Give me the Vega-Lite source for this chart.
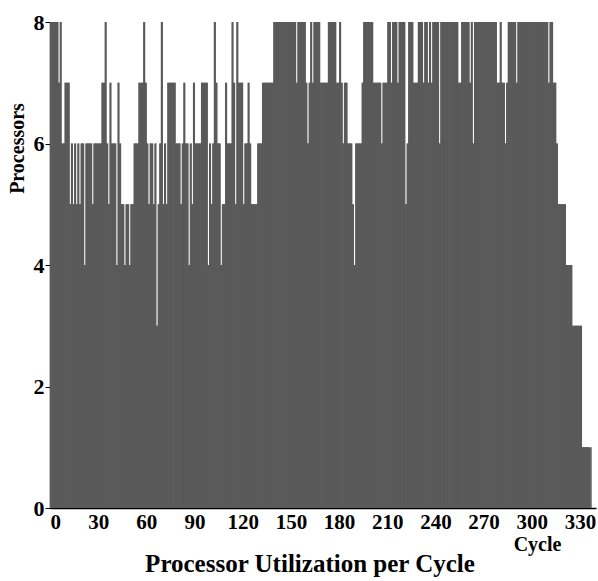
{
  "$schema": "https://vega.github.io/schema/vega-lite/v6.json",
  "width": 546,
  "height": 486,
  "autosize": {"type": "none"},
  "padding": {"left": 50, "top": 22, "right": 2, "bottom": 73},
  "background": "white",
  "title": {
    "text": "Processor Utilization per Cycle",
    "orient": "bottom",
    "anchor": "middle",
    "font": "Liberation Serif",
    "fontSize": 25,
    "fontWeight": "bold",
    "color": "black",
    "dx": -13,
    "offset": -2
  },
  "data": {"values": [
{"cycle":0,"p":8},{"cycle":1,"p":8},{"cycle":2,"p":8},{"cycle":3,"p":8},{"cycle":4,"p":8},{"cycle":5,"p":7},{"cycle":6,"p":8},{"cycle":7,"p":6},{"cycle":8,"p":6},{"cycle":9,"p":7},
{"cycle":10,"p":7},{"cycle":11,"p":7},{"cycle":12,"p":5},{"cycle":13,"p":6},{"cycle":14,"p":5},{"cycle":15,"p":6},{"cycle":16,"p":5},{"cycle":17,"p":6},{"cycle":18,"p":5},{"cycle":19,"p":6},
{"cycle":20,"p":6},{"cycle":21,"p":4},{"cycle":22,"p":6},{"cycle":23,"p":6},{"cycle":24,"p":6},{"cycle":25,"p":6},{"cycle":26,"p":5},{"cycle":27,"p":6},{"cycle":28,"p":6},{"cycle":29,"p":6},
{"cycle":30,"p":6},{"cycle":31,"p":6},{"cycle":32,"p":7},{"cycle":33,"p":7},{"cycle":34,"p":8},{"cycle":35,"p":6},{"cycle":36,"p":5},{"cycle":37,"p":7},{"cycle":38,"p":6},{"cycle":39,"p":6},
{"cycle":40,"p":6},{"cycle":41,"p":4},{"cycle":42,"p":7},{"cycle":43,"p":6},{"cycle":44,"p":5},{"cycle":45,"p":5},{"cycle":46,"p":4},{"cycle":47,"p":5},{"cycle":48,"p":5},{"cycle":49,"p":4},
{"cycle":50,"p":5},{"cycle":51,"p":5},{"cycle":52,"p":6},{"cycle":53,"p":6},{"cycle":54,"p":6},{"cycle":55,"p":7},{"cycle":56,"p":7},{"cycle":57,"p":7},{"cycle":58,"p":8},{"cycle":59,"p":7},
{"cycle":60,"p":6},{"cycle":61,"p":5},{"cycle":62,"p":6},{"cycle":63,"p":6},{"cycle":64,"p":5},{"cycle":65,"p":6},{"cycle":66,"p":3},{"cycle":67,"p":5},{"cycle":68,"p":6},{"cycle":69,"p":8},
{"cycle":70,"p":5},{"cycle":71,"p":6},{"cycle":72,"p":5},{"cycle":73,"p":7},{"cycle":74,"p":7},{"cycle":75,"p":7},{"cycle":76,"p":7},{"cycle":77,"p":7},{"cycle":78,"p":6},{"cycle":79,"p":6},
{"cycle":80,"p":6},{"cycle":81,"p":5},{"cycle":82,"p":6},{"cycle":83,"p":7},{"cycle":84,"p":6},{"cycle":85,"p":6},{"cycle":86,"p":4},{"cycle":87,"p":6},{"cycle":88,"p":5},{"cycle":89,"p":7},
{"cycle":90,"p":6},{"cycle":91,"p":6},{"cycle":92,"p":6},{"cycle":93,"p":6},{"cycle":94,"p":7},{"cycle":95,"p":7},{"cycle":96,"p":7},{"cycle":97,"p":7},{"cycle":98,"p":4},{"cycle":99,"p":6},
{"cycle":100,"p":5},{"cycle":101,"p":6},{"cycle":102,"p":8},{"cycle":103,"p":7},{"cycle":104,"p":6},{"cycle":105,"p":6},{"cycle":106,"p":4},{"cycle":107,"p":5},{"cycle":108,"p":5},{"cycle":109,"p":7},
{"cycle":110,"p":6},{"cycle":111,"p":6},{"cycle":112,"p":6},{"cycle":113,"p":8},{"cycle":114,"p":7},{"cycle":115,"p":5},{"cycle":116,"p":8},{"cycle":117,"p":7},{"cycle":118,"p":7},{"cycle":119,"p":7},
{"cycle":120,"p":5},{"cycle":121,"p":6},{"cycle":122,"p":6},{"cycle":123,"p":7},{"cycle":124,"p":6},{"cycle":125,"p":5},{"cycle":126,"p":5},{"cycle":127,"p":5},{"cycle":128,"p":5},{"cycle":129,"p":6},
{"cycle":130,"p":6},{"cycle":131,"p":6},{"cycle":132,"p":7},{"cycle":133,"p":7},{"cycle":134,"p":7},{"cycle":135,"p":7},{"cycle":136,"p":7},{"cycle":137,"p":7},{"cycle":138,"p":7},{"cycle":139,"p":8},
{"cycle":140,"p":8},{"cycle":141,"p":8},{"cycle":142,"p":8},{"cycle":143,"p":8},{"cycle":144,"p":8},{"cycle":145,"p":8},{"cycle":146,"p":8},{"cycle":147,"p":8},{"cycle":148,"p":8},{"cycle":149,"p":8},
{"cycle":150,"p":8},{"cycle":151,"p":8},{"cycle":152,"p":8},{"cycle":153,"p":7},{"cycle":154,"p":8},{"cycle":155,"p":8},{"cycle":156,"p":8},{"cycle":157,"p":8},{"cycle":158,"p":8},{"cycle":159,"p":7},
{"cycle":160,"p":6},{"cycle":161,"p":7},{"cycle":162,"p":8},{"cycle":163,"p":7},{"cycle":164,"p":8},{"cycle":165,"p":8},{"cycle":166,"p":8},{"cycle":167,"p":8},{"cycle":168,"p":7},{"cycle":169,"p":7},
{"cycle":170,"p":7},{"cycle":171,"p":7},{"cycle":172,"p":7},{"cycle":173,"p":8},{"cycle":174,"p":8},{"cycle":175,"p":8},{"cycle":176,"p":8},{"cycle":177,"p":8},{"cycle":178,"p":7},{"cycle":179,"p":7},
{"cycle":180,"p":8},{"cycle":181,"p":7},{"cycle":182,"p":6},{"cycle":183,"p":7},{"cycle":184,"p":7},{"cycle":185,"p":6},{"cycle":186,"p":6},{"cycle":187,"p":6},{"cycle":188,"p":5},{"cycle":189,"p":4},
{"cycle":190,"p":6},{"cycle":191,"p":6},{"cycle":192,"p":6},{"cycle":193,"p":6},{"cycle":194,"p":7},{"cycle":195,"p":8},{"cycle":196,"p":8},{"cycle":197,"p":8},{"cycle":198,"p":8},{"cycle":199,"p":8},
{"cycle":200,"p":8},{"cycle":201,"p":7},{"cycle":202,"p":7},{"cycle":203,"p":7},{"cycle":204,"p":7},{"cycle":205,"p":7},{"cycle":206,"p":6},{"cycle":207,"p":7},{"cycle":208,"p":7},{"cycle":209,"p":7},
{"cycle":210,"p":8},{"cycle":211,"p":8},{"cycle":212,"p":7},{"cycle":213,"p":8},{"cycle":214,"p":8},{"cycle":215,"p":8},{"cycle":216,"p":7},{"cycle":217,"p":8},{"cycle":218,"p":8},{"cycle":219,"p":8},
{"cycle":220,"p":8},{"cycle":221,"p":5},{"cycle":222,"p":6},{"cycle":223,"p":8},{"cycle":224,"p":8},{"cycle":225,"p":8},{"cycle":226,"p":7},{"cycle":227,"p":7},{"cycle":228,"p":7},{"cycle":229,"p":8},
{"cycle":230,"p":8},{"cycle":231,"p":8},{"cycle":232,"p":7},{"cycle":233,"p":8},{"cycle":234,"p":8},{"cycle":235,"p":7},{"cycle":236,"p":8},{"cycle":237,"p":7},{"cycle":238,"p":8},{"cycle":239,"p":8},
{"cycle":240,"p":8},{"cycle":241,"p":8},{"cycle":242,"p":6},{"cycle":243,"p":8},{"cycle":244,"p":8},{"cycle":245,"p":8},{"cycle":246,"p":8},{"cycle":247,"p":8},{"cycle":248,"p":8},{"cycle":249,"p":8},
{"cycle":250,"p":8},{"cycle":251,"p":8},{"cycle":252,"p":8},{"cycle":253,"p":8},{"cycle":254,"p":7},{"cycle":255,"p":7},{"cycle":256,"p":8},{"cycle":257,"p":8},{"cycle":258,"p":8},{"cycle":259,"p":8},
{"cycle":260,"p":8},{"cycle":261,"p":7},{"cycle":262,"p":8},{"cycle":263,"p":6},{"cycle":264,"p":8},{"cycle":265,"p":8},{"cycle":266,"p":8},{"cycle":267,"p":8},{"cycle":268,"p":8},{"cycle":269,"p":8},
{"cycle":270,"p":8},{"cycle":271,"p":8},{"cycle":272,"p":8},{"cycle":273,"p":8},{"cycle":274,"p":8},{"cycle":275,"p":8},{"cycle":276,"p":8},{"cycle":277,"p":8},{"cycle":278,"p":7},{"cycle":279,"p":7},
{"cycle":280,"p":8},{"cycle":281,"p":7},{"cycle":282,"p":7},{"cycle":283,"p":6},{"cycle":284,"p":7},{"cycle":285,"p":8},{"cycle":286,"p":8},{"cycle":287,"p":8},{"cycle":288,"p":8},{"cycle":289,"p":8},
{"cycle":290,"p":7},{"cycle":291,"p":8},{"cycle":292,"p":8},{"cycle":293,"p":8},{"cycle":294,"p":8},{"cycle":295,"p":8},{"cycle":296,"p":8},{"cycle":297,"p":8},{"cycle":298,"p":8},{"cycle":299,"p":8},
{"cycle":300,"p":8},{"cycle":301,"p":8},{"cycle":302,"p":8},{"cycle":303,"p":8},{"cycle":304,"p":8},{"cycle":305,"p":8},{"cycle":306,"p":8},{"cycle":307,"p":8},{"cycle":308,"p":8},{"cycle":309,"p":8},
{"cycle":310,"p":7},{"cycle":311,"p":8},{"cycle":312,"p":8},{"cycle":313,"p":7},{"cycle":314,"p":7},{"cycle":315,"p":6},{"cycle":316,"p":5},{"cycle":317,"p":5},{"cycle":318,"p":5},{"cycle":319,"p":5},
{"cycle":320,"p":5},{"cycle":321,"p":4},{"cycle":322,"p":4},{"cycle":323,"p":4},{"cycle":324,"p":4},{"cycle":325,"p":3},{"cycle":326,"p":3},{"cycle":327,"p":3},{"cycle":328,"p":3},{"cycle":329,"p":3},
{"cycle":330,"p":3},{"cycle":331,"p":1},{"cycle":332,"p":1},{"cycle":333,"p":1},{"cycle":334,"p":1},{"cycle":335,"p":1},{"cycle":336,"p":1}
  ]},
  "layer": [
    {
      "mark": {"type": "area", "color": "#5a5a5a", "interpolate": "step-after"},
      "encoding": {
        "x": {
          "field": "cycle",
          "type": "quantitative",
          "scale": {"domain": [0, 340]},
          "axis": {
            "values": [0, 30, 60, 90, 120, 150, 180, 210, 240, 270, 300, 330],
            "format": "d",
            "title": "Cycle",
            "titleX": 487,
            "titleY": 42,
            "titleAlign": "center",
            "titleBaseline": "alphabetic",
            "titleFontSize": 20,
            "tickSize": -7,
            "labelPadding": 10,
            "labelFontSize": 21,
            "labelBaseline": "top"
          }
        },
        "y": {
          "field": "p",
          "type": "quantitative",
          "scale": {"domain": [0, 8]},
          "axis": {
            "values": [0, 2, 4, 6, 8],
            "title": "Processors",
            "titleAngle": 270,
            "titleX": -33,
            "titleY": 126,
            "titleAlign": "center",
            "titleBaseline": "middle",
            "titleFontSize": 20,
            "tickSize": 5,
            "labelPadding": 1,
            "labelFontSize": 22
          }
        }
      }
    },
    {
      "mark": {"type": "bar", "color": "#5a5a5a", "binSpacing": 0},
      "encoding": {
        "x": {
          "field": "cycle",
          "type": "quantitative",
          "bin": {"step": 1, "extent": [0, 340]},
          "scale": {"domain": [0, 340]},
          "axis": {
            "values": [0, 30, 60, 90, 120, 150, 180, 210, 240, 270, 300, 330],
            "format": "d",
            "title": "Cycle",
            "titleX": 487,
            "titleY": 42,
            "titleAlign": "center",
            "titleBaseline": "alphabetic",
            "titleFontSize": 20,
            "tickSize": -7,
            "labelPadding": 10,
            "labelFontSize": 21,
            "labelBaseline": "top"
          }
        },
        "y": {
          "field": "p",
          "type": "quantitative",
          "scale": {"domain": [0, 8]},
          "axis": {
            "values": [0, 2, 4, 6, 8],
            "title": "Processors",
            "titleAngle": 270,
            "titleX": -33,
            "titleY": 126,
            "titleAlign": "center",
            "titleBaseline": "middle",
            "titleFontSize": 20,
            "tickSize": 5,
            "labelPadding": 1,
            "labelFontSize": 22
          }
        }
      }
    }
  ],
  "config": {
    "view": {"stroke": null},
    "axis": {
      "grid": false,
      "domainColor": "black",
      "domainWidth": 1.5,
      "tickColor": "black",
      "tickWidth": 1,
      "labelFont": "Liberation Serif",
      "labelFontWeight": "bold",
      "labelColor": "black",
      "titleFont": "Liberation Serif",
      "titleFontWeight": "bold",
      "titleColor": "black"
    }
  }
}
